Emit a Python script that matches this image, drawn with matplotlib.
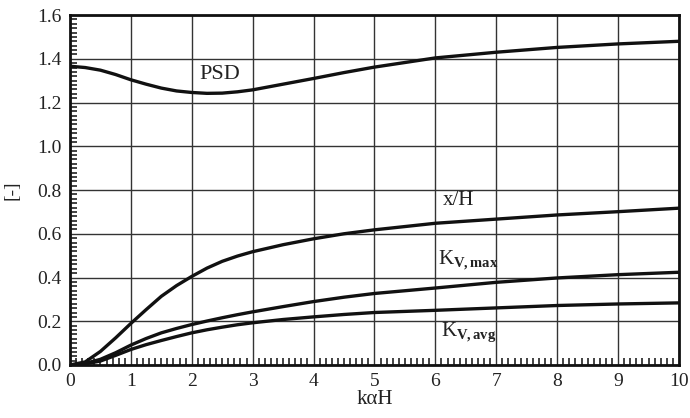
import numpy as np
import matplotlib
matplotlib.use("Agg")
import matplotlib.pyplot as plt
from matplotlib.ticker import MultipleLocator, FormatStrFormatter

# data
ka_h = [0, 0.25, 0.5, 0.75, 1, 1.25, 1.5, 1.75, 2, 2.25, 2.5, 2.75, 3, 3.5, 4, 4.5, 5,
        6, 7, 8, 9, 10]
psd = [1.366, 1.360, 1.348, 1.328, 1.304, 1.284, 1.266, 1.253, 1.246, 1.242, 1.243, 1.249,
       1.258, 1.284, 1.310, 1.337, 1.362, 1.404, 1.430, 1.452, 1.468, 1.480]
x_h = [0.0, 0.014, 0.062, 0.124, 0.190, 0.253, 0.314, 0.363, 0.405, 0.443, 0.474, 0.498,
       0.518, 0.550, 0.577, 0.600, 0.618, 0.648, 0.667, 0.686, 0.701, 0.717]
kv_max = [0.0, 0.007, 0.026, 0.056, 0.091, 0.121, 0.147, 0.167, 0.185, 0.201, 0.216, 0.230,
          0.243, 0.267, 0.290, 0.310, 0.327, 0.352, 0.378, 0.398, 0.413, 0.424]
kv_avg = [0.0, 0.005, 0.018, 0.044, 0.071, 0.093, 0.112, 0.130, 0.147, 0.161, 0.173, 0.184,
          0.193, 0.208, 0.220, 0.231, 0.240, 0.250, 0.261, 0.272, 0.279, 0.284]

plt.rcParams["font.family"] = "Liberation Serif"
plt.rcParams["mathtext.fontset"] = "custom"
plt.rcParams["mathtext.rm"] = "Liberation Serif"
plt.rcParams["mathtext.it"] = "Liberation Serif:italic"
plt.rcParams["mathtext.bf"] = "Liberation Serif:bold"
plt.rcParams["xtick.direction"] = "in"
plt.rcParams["ytick.direction"] = "in"

fig = plt.figure(figsize=(6.9, 4.18), dpi=100)
ax = fig.add_axes([0.1014, 0.1268, 0.8826, 0.8372])

for ys in (psd, x_h, kv_max, kv_avg):
    ax.plot(ka_h, ys, color="#111111", lw=2.4, solid_joinstyle="round",
            solid_capstyle="round")

ax.set_xlim(0, 10)
ax.set_ylim(0, 1.6)
ax.xaxis.set_major_locator(MultipleLocator(1))
ax.xaxis.set_minor_locator(MultipleLocator(0.1))
ax.yaxis.set_major_locator(MultipleLocator(0.2))
ax.yaxis.set_minor_locator(MultipleLocator(0.02))
ax.yaxis.set_major_formatter(FormatStrFormatter("%.1f"))
ax.grid(True, which="major", color="#333333", lw=1.0)
ax.set_axisbelow(True)

ax.tick_params(which="major", length=0, labelsize=14, pad=6, colors="#222222")
ax.tick_params(which="minor", length=5, width=1.2, color="#222222")
ax.tick_params(top=False, right=False, which="both")
for s in ax.spines.values():
    s.set_linewidth(2)
    s.set_color("#111111")

ax.set_xlabel("kαH", fontsize=15, labelpad=0, color="#222222")
ax.set_ylabel("[-]", fontsize=14, labelpad=12, color="#222222")

ax.text(2.46, 1.326, "PSD", fontsize=16, ha="center", va="center", color="#222222")
ax.text(6.38, 0.75, "x/H", fontsize=15, ha="center", va="center", color="#222222")
ax.text(6.05, 0.48, r"K$_{\mathbf{V,max}}$", fontsize=15, ha="left", va="center",
        color="#222222")
ax.text(6.1, 0.15, r"K$_{\mathbf{V,avg}}$", fontsize=15, ha="left", va="center",
        color="#222222")

fig.savefig("out.png", dpi=100)
